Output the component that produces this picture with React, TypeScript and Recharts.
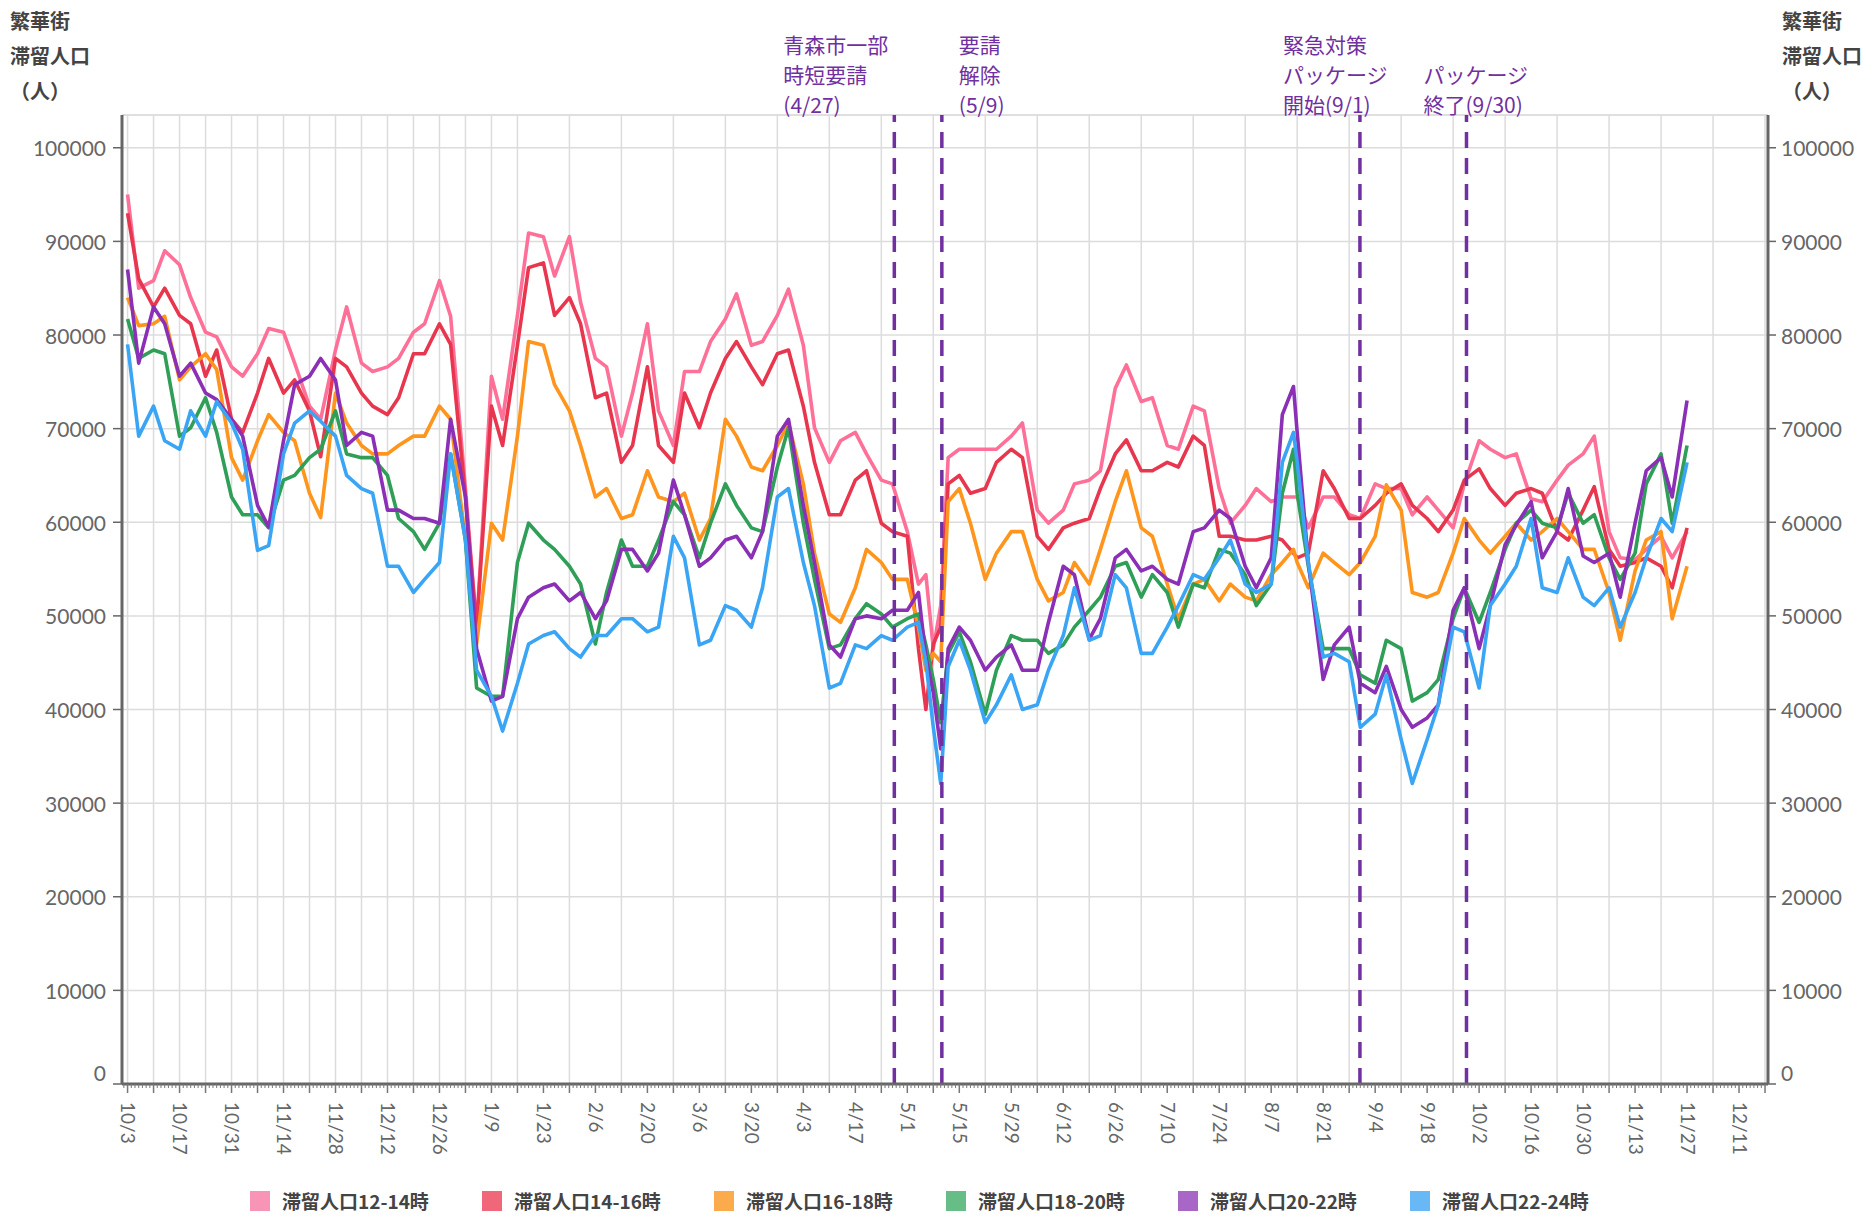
import React from "react";

// Components
import {
  LineChart,
  Line,
  XAxis,
  YAxis,
  CartesianGrid,
  ReferenceLine
} from "recharts";

// day offsets from 2020/10/3
const days = [
  0, 3, 7, 10, 14, 17, 21, 24, 28, 31, 35, 38, 42, 45, 49, 52, 56, 59, 63, 66, 70, 73, 77, 80, 84,
  87, 91, 94, 98, 101, 105, 108, 112, 115, 119, 122, 126, 129, 133, 136, 140, 143, 147, 150, 154, 157, 161, 164, 168,
  171, 175, 178, 182, 185, 189, 192, 196, 199, 203, 206, 210, 213, 215, 217, 219, 221, 224, 227, 231, 234, 238, 241, 245, 248, 252, 255,
  259, 262, 266, 269, 273, 276, 280, 283, 287, 290, 294, 297, 301, 304, 308, 311, 314, 315, 318, 322, 325, 329, 332, 336,
  339, 343, 346, 350, 353, 357, 360, 364, 367, 371, 374, 378, 381, 385, 388, 392, 395, 399, 402, 406, 409, 413, 416, 420
];

const p12 = [
  95000, 85000, 85800, 89000, 87500, 84000, 80300, 79800, 76600, 75600, 78000, 80700, 80300, 77000, 72400, 71000, 78400, 83000, 77000, 76100, 76600, 77500, 80300, 81200, 85800,
  82000, 63600, 48800, 75600, 71000, 82100, 90900, 90500, 86300, 90500, 83500, 77500, 76600, 69200, 73800, 81200, 71900, 68200, 76100, 76100, 79300, 81700, 84400, 78900,
  79300, 82100, 84900, 78900, 70100, 66400, 68700, 69600, 67300, 64500, 64100, 59000, 53400, 54400, 46500, 51100, 66900, 67800, 67800, 67800, 67800, 69200, 70600, 61300, 59900, 61300, 64100,
  64500, 65500, 74300, 76800, 72900, 73300, 68200, 67800, 72400, 71900, 63600, 59900, 61800, 63600, 62200, 62700, 62700, 62700, 59400, 62700, 62700, 60800, 60400, 64100,
  63600, 63600, 60800, 62700, 61300, 59400, 64100, 68700, 67800, 66900, 67300, 62500, 62200, 64500, 66100, 67300, 69200, 59000, 56200, 56000, 57100, 58500, 56200, 59000
];

const p14 = [
  93000, 86000, 83000, 85000, 82100, 81200, 75600, 78400, 71000, 69600, 73800, 77500, 73800, 75200, 71900, 67000, 77500, 76600, 73800, 72400, 71500, 73300, 78000, 78000, 81200,
  79000, 62700, 48800, 72400, 68200, 78900, 87200, 87700, 82100, 84000, 81200, 73300, 73800, 66400, 68200, 76600, 68200, 66400, 73800, 70100, 73800, 77500, 79300, 76600,
  74700, 78000, 78400, 72400, 66400, 60800, 60800, 64500, 65500, 59900, 59000, 58500, 46500, 40000, 47000, 48800, 64100, 65000, 63100, 63600, 66400, 67800, 66900, 58500, 57100, 59400, 59900,
  60400, 63600, 67300, 68800, 65500, 65500, 66400, 65900, 69200, 68200, 58500, 58500, 58100, 58100, 58500, 58100, 56700, 56200, 56700, 65500, 63600, 60400, 60400, 61800,
  63100, 64100, 61800, 60400, 59000, 61300, 64500, 65700, 63600, 61800, 63100, 63600, 63100, 59000, 58100, 61300, 63800, 57100, 55300, 55700, 56200, 55300, 53000, 59400
];

const p16 = [
  84000, 81000, 81200, 82000, 75200, 76600, 78000, 76300, 66900, 64500, 68700, 71500, 69600, 68700, 63100, 60500, 73800, 70600, 68200, 67300, 67300, 68200, 69200, 69200, 72400,
  71000, 58100, 47000, 59900, 58100, 69200, 79300, 78900, 74700, 71900, 68200, 62700, 63600, 60400, 60800, 65500, 62700, 62200, 63100, 58100, 60400, 71000, 69200, 65900,
  65500, 68200, 70600, 64100, 56700, 50200, 49300, 53000, 57100, 55700, 53900, 53900, 48800, 44200, 46000, 45100, 62200, 63600, 59900, 53900, 56700, 59000, 59000, 53900, 51600, 52500, 55700,
  53400, 57100, 62200, 65500, 59400, 58500, 53400, 49700, 53400, 53900, 51600, 53400, 52000, 51600, 54400, 55700, 57100, 55700, 53000, 56700, 55700, 54400, 55700, 58500,
  64000, 61300, 52500, 52000, 52500, 56700, 60400, 58100, 56700, 58500, 59900, 58100, 59000, 60400, 59000, 57100, 57100, 52500, 47400, 54800, 58100, 59000, 49700, 55300
];

const p18 = [
  81700, 77500, 78400, 78000, 69200, 70100, 73300, 69600, 62700, 60800, 60800, 59400, 64500, 65000, 66900, 67800, 71900, 67300, 66900, 66900, 65000, 60400, 59000, 57100, 59900,
  67300, 58100, 42300, 41400, 41400, 55700, 59900, 58100, 57100, 55300, 53400, 47000, 52500, 58100, 55300, 55300, 58100, 62200, 60800, 56200, 59900, 64100, 61800, 59400,
  59000, 65900, 70100, 59900, 53900, 46500, 46900, 49700, 51300, 50200, 48800, 49700, 50200, 46900, 43200, 38600, 46000, 48300, 45100, 39500, 44200, 47900, 47400, 47400, 46000, 46900, 48800,
  50600, 52000, 55300, 55700, 52000, 54400, 52500, 48800, 53400, 53000, 57100, 56700, 54400, 51100, 53400, 63100, 67800, 63100, 55300, 46500, 46500, 46500, 43700, 42800,
  47400, 46500, 40900, 41800, 43200, 49700, 53000, 49300, 52500, 57100, 59900, 61300, 59900, 59400, 63100, 59900, 60800, 56200, 53900, 56700, 64100, 67300, 59900, 68200
];

const p20 = [
  87000, 77000, 83000, 81200, 75600, 77000, 73800, 73100, 71000, 69200, 61800, 59500, 68700, 74700, 75600, 77500, 75200, 68200, 69600, 69200, 61300, 61300, 60400, 60400, 59900,
  71000, 62700, 46500, 40900, 41400, 49700, 52000, 53000, 53400, 51600, 52500, 49700, 51600, 57100, 57100, 54800, 56700, 64500, 60800, 55300, 56200, 58100, 58500, 56200,
  59000, 69200, 71000, 61800, 55700, 46900, 45600, 49700, 50000, 49700, 50600, 50600, 52500, 45600, 41800, 35800, 46500, 48800, 47400, 44200, 45600, 46900, 44200, 44200, 49300, 55300, 54400,
  47500, 49700, 56200, 57100, 54800, 55300, 53900, 53400, 59000, 59400, 61300, 60400, 55300, 53000, 56200, 71500, 74500, 69600, 55700, 43200, 46900, 48800, 42800, 41800,
  44600, 40000, 38100, 39100, 40500, 50600, 53000, 46500, 51100, 57600, 59700, 62200, 56200, 59000, 63600, 56400, 55700, 56700, 52000, 59900, 65500, 66900, 62700, 73000
];

const p22 = [
  79000, 69200, 72400, 68700, 67800, 71900, 69200, 72900, 70600, 67800, 57000, 57500, 67300, 70600, 71900, 70800, 69200, 65000, 63600, 63100, 55300, 55300, 52500, 53900, 55700,
  67300, 58100, 44200, 41400, 37700, 42800, 47000, 47900, 48300, 46500, 45600, 47900, 47900, 49700, 49700, 48300, 48800, 58500, 56200, 46900, 47400, 51100, 50600, 48800,
  53000, 62700, 63600, 55700, 51100, 42300, 42800, 46900, 46500, 47900, 47400, 48800, 49300, 45100, 38100, 32100, 44600, 47400, 44200, 38600, 40500, 43700, 40000, 40500, 44200, 47900, 53000,
  47400, 47900, 54400, 53000, 46000, 46000, 48800, 51100, 54400, 53900, 56200, 58100, 53400, 52500, 53400, 66400, 69600, 66400, 55700, 45600, 46000, 45100, 38100, 39500,
  43700, 36800, 32100, 36800, 40500, 48800, 48300, 42300, 51100, 53400, 55300, 60400, 53000, 52500, 56200, 52000, 51100, 53000, 48800, 52500, 56200, 60400, 59000, 66400
];

// every 14 days from 10/3
const tickLabels = [
  "10/3", "10/17", "10/31", "11/14", "11/28", "12/12", "12/26", "1/9", "1/23", "2/6", "2/20",
  "3/6", "3/20", "4/3", "4/17", "5/1", "5/15", "5/29", "6/12", "6/26", "7/10", "7/24", "8/7",
  "8/21", "9/4", "9/18", "10/2", "10/16", "10/30", "11/13", "11/27", "12/11"
];

const yTicks = [0, 10000, 20000, 30000, 40000, 50000, 60000, 70000, 80000, 90000, 100000];

const series = [
  { key: "p12", name: "滞留人口12-14時", color: "#ff7098", swatch: "#f895b6" },
  { key: "p14", name: "滞留人口14-16時", color: "#e8364f", swatch: "#f0677a" },
  { key: "p16", name: "滞留人口16-18時", color: "#ff951c", swatch: "#fbaa4c" },
  { key: "p18", name: "滞留人口18-20時", color: "#2f9f58", swatch: "#66bd85" },
  { key: "p20", name: "滞留人口20-22時", color: "#8a2fb6", swatch: "#a867c6" },
  { key: "p22", name: "滞留人口22-24時", color: "#3aa5f5", swatch: "#67b8f5" }
];

const events = [
  { day: 206.5, dx: -111, text: ["青森市一部", "時短要請", "(4/27)"] },
  { day: 219.3, dx: 17, text: ["要請", "解除", "(5/9)"] },
  { day: 331.9, dx: -77, text: ["緊急対策", "パッケージ", "開始(9/1)"] },
  { day: 360.6, dx: -43, text: ["", "パッケージ", "終了(9/30)"] }
];

const rows = days.map((d, i) => ({
  d,
  p12: p12[i],
  p14: p14[i],
  p16: p16[i],
  p18: p18[i],
  p20: p20[i],
  p22: p22[i]
}));

const dayTicks = Array.from({ length: 443 }, (_, i) => i - 1);
const weekTicks = Array.from({ length: 64 }, (_, i) => i * 7);

const JP = '"Noto Sans CJK JP", sans-serif';
const NUM = "Lato, sans-serif";
const PURPLE = "#7030a0";

const XTick = (props: any) => {
  const { x, y, payload } = props;
  const d = payload.value;
  const week = d >= 0 && d % 7 === 0;
  const label = d >= 0 && d % 14 === 0 ? tickLabels[d / 14] : undefined;
  return (
    <g>
      <line x1={x} x2={x} y1={y} y2={y + (week ? 9 : 4)} stroke="#777" strokeWidth={week ? 1.5 : 1} />
      {label && (
        <text
          transform={`translate(${x + 1},${y + 18}) rotate(90)`}
          textAnchor="start"
          dominantBaseline="central"
          fontSize={19}
          fontFamily={NUM}
          fill="#666"
        >
          {label}
        </text>
      )}
    </g>
  );
};

const YTick = (props: any) => {
  const { x, y, payload, side } = props;
  return (
    <text
      x={x}
      y={payload.value === 0 ? y - 12 : y}
      textAnchor={side === "left" ? "end" : "start"}
      dominantBaseline="central"
      fontSize={21}
      fontFamily={NUM}
      fill="#666"
    >
      {payload.value}
    </text>
  );
};

const EventLabel = (props: any) => {
  const { viewBox, ev } = props;
  const x = viewBox.x + ev.dx;
  const top = viewBox.y;
  return (
    <g>
      {ev.text.map((t: string, i: number) =>
        t ? (
          <text
            key={i}
            x={x}
            y={top - 71 + i * 30}
            dominantBaseline="central"
            fontSize={21}
            fontFamily={JP}
            fill={PURPLE}
          >
            {t}
          </text>
        ) : null
      )}
    </g>
  );
};

const titleStyle = (left: number, top: number): React.CSSProperties => ({
  position: "absolute",
  left,
  top,
  fontFamily: JP,
  fontWeight: 700,
  fontSize: 20,
  lineHeight: "20px",
  color: "#444",
  whiteSpace: "nowrap"
});

const AxisTitle = ({ left }: { left: number }) => (
  <>
    <div style={titleStyle(left, 11)}>繁華街</div>
    <div style={titleStyle(left, 46)}>滞留人口</div>
    <div style={titleStyle(left, 81)}>（人）</div>
  </>
);

export default function App() {
  return (
    <div style={{ position: "absolute", left: 0, top: 0, width: 1868, height: 1216, background: "#fff" }}>
      <LineChart width={1868} height={1216} data={rows} margin={{ top: 115, right: 20, bottom: 92, left: 42 }}>
        <XAxis
          dataKey="d"
          type="number"
          domain={[-1.5, 441.8]}
          allowDataOverflow
          ticks={dayTicks}
          interval={0}
          tick={<XTick />}
          tickLine={false}
          tickSize={0}
          tickMargin={0}
          axisLine={{ stroke: "#666", strokeWidth: 3 }}
          height={40}
        />
        <XAxis xAxisId="wk" dataKey="d" type="number" domain={[-1.5, 441.8]} allowDataOverflow ticks={weekTicks} hide />
        <YAxis
          yAxisId="left"
          domain={[0, 103500]}
          allowDataOverflow
          ticks={yTicks}
          interval={0}
          width={80}
          tick={<YTick side="left" />}
          tickSize={9}
          tickMargin={7}
          tickLine={{ stroke: "#666", strokeWidth: 1.5 }}
          axisLine={{ stroke: "#666", strokeWidth: 3 }}
        />
        <YAxis
          yAxisId="right"
          orientation="right"
          domain={[0, 103500]}
          allowDataOverflow
          ticks={yTicks}
          interval={0}
          width={80}
          tick={<YTick side="right" />}
          tickSize={8}
          tickMargin={5}
          tickLine={{ stroke: "#666", strokeWidth: 1.5 }}
          axisLine={{ stroke: "#666", strokeWidth: 3 }}
        />
        <CartesianGrid xAxisId="wk" yAxisId="left" stroke="#dcdcdc" strokeWidth={1.5} />
        <ReferenceLine yAxisId="left" y={103500} stroke="#dcdcdc" strokeWidth={1.5} />
        {series.map((s) => (
          <Line
            key={s.key}
            yAxisId="left"
            type="linear"
            dataKey={s.key}
            name={s.name}
            stroke={s.color}
            strokeWidth={3.6}
            strokeLinejoin="round"
            dot={false}
            activeDot={false}
            isAnimationActive={false}
          />
        ))}
        {events.map((ev) => (
          <ReferenceLine
            key={ev.day}
            yAxisId="left"
            x={ev.day}
            stroke={PURPLE}
            strokeWidth={3.5}
            strokeDasharray="16 10"
            label={<EventLabel ev={ev} />}
          />
        ))}
      </LineChart>
      <AxisTitle left={10} />
      <AxisTitle left={1782} />
      {series.map((s, i) => (
        <div
          key={s.key}
          style={{
            position: "absolute",
            left: 250 + i * 232,
            top: 1190,
            height: 22,
            lineHeight: "22px",
            display: "flex",
            alignItems: "center",
            fontFamily: JP,
            fontWeight: 700,
            fontSize: 19,
            color: "#444",
            whiteSpace: "nowrap"
          }}
        >
          <span style={{ display: "inline-block", width: 20, height: 20, background: s.swatch, marginRight: 12 }} />
          {s.name}
        </div>
      ))}
    </div>
  );
}
